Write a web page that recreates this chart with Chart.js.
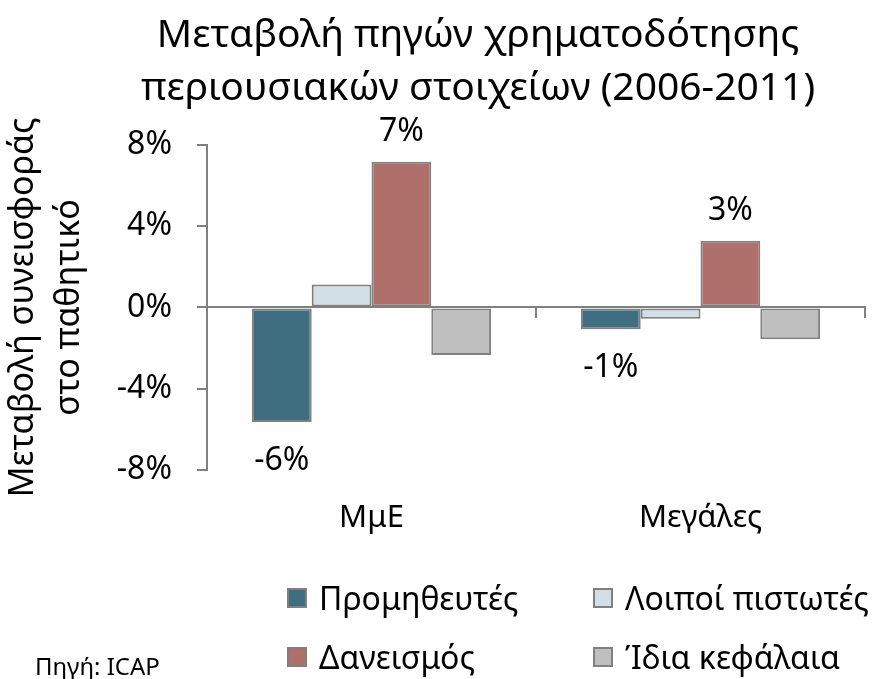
<!DOCTYPE html>
<html>
<head>
<meta charset="utf-8">
<script src="https://cdn.jsdelivr.net/npm/chart.js@4.4.1/dist/chart.umd.min.js"></script>
<style>
  html, body { margin: 0; padding: 0; background: #fff; }
  #wrap { width: 878px; height: 679px; position: relative; }
</style>
</head>
<body>
<div id="wrap"><canvas id="chart"></canvas></div>
<script>
// Δεδομένα (μεταβολή %, 2006-2011)
const categories = ['ΜμΕ', 'Μεγάλες'];
const seriesNames = ['Προμηθευτές', 'Λοιποί πιστωτές', 'Δανεισμός', 'Ίδια κεφάλαια'];
const promitheftes = [-5.65, -1.08];
const loipoi = [1.13, -0.56];
const daneismos = [7.17, 3.28];
const idia = [-2.34, -1.57];
const yTicks = [-8, -4, 0, 4, 8];
const showLabels = [true, false, true, false];

const colors = ['#3F6E81', '#D3DFE6', '#AF706B', '#BFBFBF'];
const edge = '#808080';
const FONT = '"Noto Sans", "DejaVu Sans", sans-serif';

const datasets = [promitheftes, loipoi, daneismos, idia].map((d, i) => ({
    label: seriesNames[i],
    data: d,
    backgroundColor: colors[i],
    borderColor: edge,
    borderWidth: 2,
    borderSkipped: false,
    xAxisID: 'x',
    yAxisID: 'y'
}));

// Ετικέτες τιμών πάνω/κάτω από τις μπάρες
const valueLabels = {
    id: 'valueLabels',
    afterDatasetsDraw(chart) {
        const ctx = chart.ctx;
        ctx.save();
        ctx.font = '32px ' + FONT;
        ctx.fillStyle = '#000';
        ctx.textAlign = 'center';
        ctx.textBaseline = 'alphabetic';
        chart.data.datasets.forEach((ds, i) => {
            if (!showLabels[i]) return;
            chart.getDatasetMeta(i).data.forEach((bar, j) => {
                const v = ds.data[j];
                const txt = Math.round(v) + '%';
                if (v >= 0) ctx.fillText(txt, bar.x, bar.y - 21);
                else ctx.fillText(txt, bar.x, bar.y + 48);
            });
        });
        ctx.restore();
    }
};

// Τίτλος, υπόμνημα και πηγή
const extras = {
    id: 'extras',
    afterDraw(chart) {
        const ctx = chart.ctx;
        ctx.save();
        ctx.fillStyle = '#000';
        ctx.textAlign = 'center';
        ctx.textBaseline = 'alphabetic';
        ctx.font = '39px ' + FONT;
        ctx.fillText('Μεταβολή πηγών χρηματοδότησης', 478, 47);
        ctx.fillText('περιουσιακών στοιχείων (2006-2011)', 478, 100);

        const cols = [287, 593];
        const rows = [588, 647];
        ctx.textAlign = 'left';
        ctx.font = '32px ' + FONT;
        chart.data.datasets.forEach((ds, i) => {
            const x = cols[i % 2];
            const y = rows[Math.floor(i / 2)];
            ctx.fillStyle = ds.backgroundColor;
            ctx.fillRect(x, y, 20, 20);
            ctx.strokeStyle = edge;
            ctx.lineWidth = 2;
            ctx.strokeRect(x + 1, y + 1, 18, 18);
            ctx.fillStyle = '#000';
            ctx.fillText(ds.label, x + 32, y + 22);
        });

        ctx.font = '24px ' + FONT;
        ctx.fillText('Πηγή: ICAP', 35, 675);
        ctx.restore();
    }
};

new Chart(document.getElementById('chart'), {
    type: 'bar',
    data: { labels: categories, datasets: datasets },
    plugins: [valueLabels, extras],
    options: {
        responsive: true,
        maintainAspectRatio: false,
        animation: false,
        layout: { padding: { top: 145, right: 13, left: 0, bottom: 112 } },
        datasets: { bar: { categoryPercentage: 0.727, barPercentage: 1 } },
        plugins: { legend: { display: false }, title: { display: false }, tooltip: { enabled: false } },
        scales: {
            x: {
                position: { y: 0 },
                offset: true,
                ticks: { display: false },
                grid: { offset: true, drawOnChartArea: false, drawTicks: true, tickLength: 10, color: edge, lineWidth: 2 },
                border: { color: edge, width: 2 }
            },
            x2: {
                type: 'category',
                position: 'bottom',
                offset: true,
                grid: { display: false, drawTicks: false },
                border: { display: false },
                ticks: { color: '#000', font: { family: FONT, size: 31 }, padding: 30 }
            },
            y: {
                min: -8, max: 8,
                afterBuildTicks(scale) { scale.ticks = yTicks.map(v => ({ value: v })); },
                ticks: { color: '#000', font: { family: FONT, size: 32 }, padding: 25, callback: v => v + '%' },
                grid: { drawOnChartArea: false, tickLength: 10, color: edge, lineWidth: 2 },
                border: { color: edge, width: 2 },
                title: {
                    display: true,
                    text: ['Μεταβολή συνεισφοράς', 'στο παθητικό'],
                    color: '#000',
                    font: { family: FONT, size: 34, lineHeight: 1.35 },
                    padding: { top: 0, bottom: 0 }
                }
            }
        }
    }
});
</script>
</body>
</html>
